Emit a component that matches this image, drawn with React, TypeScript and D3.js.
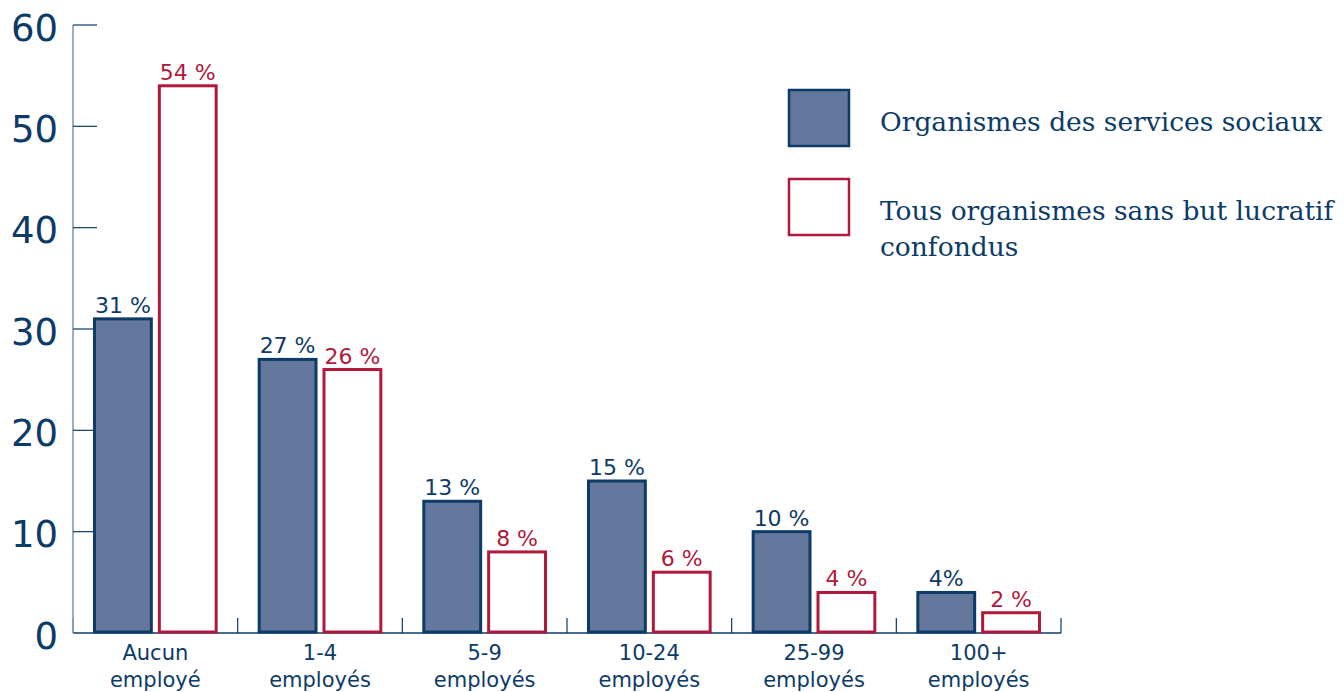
import * as d3 from 'd3';
import React, { useEffect, useRef } from 'react';

const categories = ['Aucun|employé', '1-4|employés', '5-9|employés', '10-24|employés', '25-99|employés', '100+|employés'];
const socialValues = [31, 27, 13, 15, 10, 4];
const allValues = [54, 26, 8, 6, 4, 2];
const socialLabels = ['31 %', '27 %', '13 %', '15 %', '10 %', '4%'];
const allLabels = ['54 %', '26 %', '8 %', '6 %', '4 %', '2 %'];
const yTicks = [0, 10, 20, 30, 40, 50, 60];
const legendItems = ['Organismes des services sociaux', 'Tous organismes sans but lucratif|confondus'];

const NAVY = '#0d3b68';
const BLUE_FILL = '#64779d';
const RED = '#b0193b';

export default function App() {
  const svgRef = useRef<SVGSVGElement>(null);

  useEffect(() => {
    if (!svgRef.current) return;
    const width = 1344;
    const height = 692;
    const svg = d3.select(svgRef.current);
    svg.selectAll('*').remove();

    const left = 73;
    const right = 1061;
    const top = 25;
    const bottom = 633;

    const x = d3.scaleBand<string>().domain(categories).range([left, right]);
    const y = d3.scaleLinear().domain([0, 60]).range([bottom, top]);
    const pad = 20;
    const gap = 5;
    const barW = (x.bandwidth() - 2 * pad - gap) / 2;

    const font = '"DejaVu Sans", Verdana, sans-serif';

    // y axis
    svg.append('line')
      .attr('x1', left).attr('x2', left)
      .attr('y1', top).attr('y2', bottom)
      .attr('stroke', '#7d93ad').attr('stroke-width', 1.5);

    const yt = svg.append('g');
    yTicks.forEach(t => {
      if (t > 0) {
        yt.append('line')
          .attr('x1', left).attr('x2', left + 24)
          .attr('y1', y(t)).attr('y2', y(t))
          .attr('stroke', NAVY).attr('stroke-width', 1.2);
      }
      yt.append('text')
        .attr('x', 58).attr('y', y(t) + 3)
        .attr('text-anchor', 'end')
        .attr('dominant-baseline', 'central')
        .style('font-family', font)
        .style('font-size', '37px')
        .attr('fill', NAVY)
        .text(t);
    });

    // x axis
    svg.append('line')
      .attr('x1', left).attr('x2', right)
      .attr('y1', bottom).attr('y2', bottom)
      .attr('stroke', NAVY).attr('stroke-width', 1.5);

    const bounds = categories.map(c => x(c) as number).concat([right]);
    bounds.forEach(b => {
      svg.append('line')
        .attr('x1', b).attr('x2', b)
        .attr('y1', bottom - 15).attr('y2', bottom)
        .attr('stroke', b === left ? '#7d93ad' : NAVY).attr('stroke-width', 1.2);
    });

    // bars
    const g = svg.append('g');
    categories.forEach((c, i) => {
      const x0 = (x(c) as number) + pad;
      const x1 = x0 + barW + gap;
      g.append('rect')
        .attr('x', x0 + 1.5).attr('y', y(socialValues[i]))
        .attr('width', barW - 3).attr('height', bottom - y(socialValues[i]) - 1)
        .attr('fill', BLUE_FILL).attr('stroke', NAVY).attr('stroke-width', 3);
      g.append('rect')
        .attr('x', x1 + 1.5).attr('y', y(allValues[i]))
        .attr('width', barW - 3).attr('height', bottom - y(allValues[i]) - 1)
        .attr('fill', '#fff').attr('stroke', RED).attr('stroke-width', 3);

      g.append('text')
        .attr('x', x0 + barW / 2).attr('y', y(socialValues[i]) - 6)
        .attr('text-anchor', 'middle')
        .style('font-family', font).style('font-size', '22px')
        .attr('fill', NAVY)
        .text(socialLabels[i]);
      g.append('text')
        .attr('x', x1 + barW / 2).attr('y', y(allValues[i]) - 6)
        .attr('text-anchor', 'middle')
        .style('font-family', font).style('font-size', '22px')
        .attr('fill', RED)
        .text(allLabels[i]);

      const lines = c.split('|');
      lines.forEach((ln, k) => {
        svg.append('text')
          .attr('x', (x(c) as number) + x.bandwidth() / 2)
          .attr('y', 660 + k * 27)
          .attr('text-anchor', 'middle')
          .style('font-family', font).style('font-size', '21px')
          .attr('fill', NAVY)
          .text(ln);
      });
    });

    // legend
    const lg = svg.append('g');
    legendItems.forEach((item, i) => {
      const yy = 90 + i * 89;
      lg.append('rect')
        .attr('x', 789).attr('y', yy)
        .attr('width', 60).attr('height', 56)
        .attr('fill', i === 0 ? BLUE_FILL : '#fff')
        .attr('stroke', i === 0 ? NAVY : RED)
        .attr('stroke-width', 2.5);
      item.split('|').forEach((ln, k) => {
        lg.append('text')
          .attr('x', 880).attr('y', yy + 41 + k * 36)
          .style('font-family', '"DejaVu Serif", serif')
          .style('font-size', '26.5px')
          .attr('fill', NAVY)
          .text(ln);
      });
    });

    svg.attr('width', width).attr('height', height);
  }, []);

  return (
    <div style={{ position: 'absolute', left: 0, top: 0 }}>
      <svg ref={svgRef} width={1344} height={692} style={{ display: 'block', background: '#fff' }} />
    </div>
  );
}
